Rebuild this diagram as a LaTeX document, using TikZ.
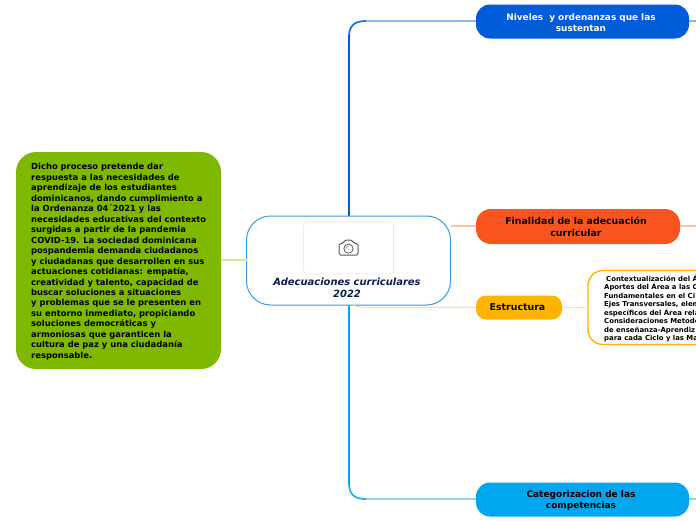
\documentclass[tikz,border=0pt]{standalone}
\usepackage{fontspec}
\setmainfont{DejaVu Sans}
\definecolor{cgreen}{HTML}{7FB800}
\definecolor{cgreenl}{HTML}{D2E6A0}
\definecolor{cblue}{HTML}{005CD9}
\definecolor{cbluel}{HTML}{8FB5EC}
\definecolor{csky}{HTML}{00A6EE}
\definecolor{cskyl}{HTML}{8AD4F5}
\definecolor{corange}{HTML}{FA5420}
\definecolor{corangel}{HTML}{FDC0AC}
\definecolor{cyellow}{HTML}{FFB500}
\definecolor{cyellowl}{HTML}{FFE29A}
\definecolor{cborder}{HTML}{3C9ADF}
\definecolor{cnavy}{HTML}{0A1F50}
\tikzset{
  x=1pt,y=-1pt,
  boxnode/.style={draw=none,inner sep=0pt,outer sep=0pt,anchor=north west},
  thinlink/.style={line width=1.1pt},
  label/.style={inner sep=0pt,align=center,font=\bfseries},
}
\begin{document}
\begin{tikzpicture}
\useasboundingbox (0,0) rectangle (696,520);
\clip (0,0) rectangle (696,520);
\fill[white] (0,0) rectangle (696,520);

% named anchors
\coordinate (topend) at (476,21);
\coordinate (botend) at (476,499);
\coordinate (rootT) at (349,216);
\coordinate (rootB) at (349,305);
\coordinate (topout) at (696,21);
\coordinate (finout) at (696,226);
\coordinate (botout) at (696,499);

% trunk connectors
\draw[cbluel,thinlink] (topend) -- (364,21);
\draw[cblue!75!cbluel,line width=1.8pt] (366,21) .. controls (354,21) and (349,26) .. (349,37);
\draw[cblue,line width=2.6pt] (349,35) -- (rootT);
\draw[cskyl,thinlink] (botend) -- (364,499);
\draw[csky!75!cskyl,line width=1.8pt] (366,499) .. controls (354,499) and (349,494) .. (349,483);
\draw[csky,line width=2.6pt] (349,485) -- (rootB);

% root
\node[boxnode,draw=cborder,line width=1pt,fill=white,rounded corners=24pt,minimum width=204pt,minimum height=89pt] (root) at (246.5,216) {};
\node[boxnode,draw=black!8,line width=0.7pt,fill=white,rounded corners=4pt,minimum width=90pt,minimum height=52pt] (photo) at (303.5,222) {};
% camera icon
\begin{scope}[shift={(348.5,248)}]
\draw[black!65,line width=1pt,rounded corners=1.5pt] (-9.5,-4.5) -- (-5.5,-4.5) -- (-3.5,-8) -- (3.5,-8) -- (5.5,-4.5) -- (9.5,-4.5) -- (9.5,7) -- (-9.5,7) -- cycle;
\draw[black!65,line width=0.8pt] (0,0.7) circle (4.6);
\draw[black!50,line width=0.5pt] (-2.4,0.7) arc (180:270:2.4);
\end{scope}
\node[label,font=\bfseries\itshape\fontsize{9.95}{12.4}\selectfont,text=cnavy] (roottext) at (347,288) {Adecuaciones curriculares\\2022};

% left
\node[boxnode,fill=cgreen,rounded corners=20pt,minimum width=205pt,minimum height=217pt] (left) at (16,152) {};
\draw[cgreenl,thinlink] (left.east |- 0,260) -- (root.west |- 0,260);
\node[inner sep=0pt,anchor=north west,align=left,text=black,font=\bfseries\fontsize{8.4}{10.47}\selectfont] (lefttext) at (31,163.3) {Dicho proceso pretende dar\\respuesta a las necesidades de\\aprendizaje de los estudiantes\\dominicanos, dando cumplimiento a\\la Ordenanza 04´2021 y las\\necesidades educativas del contexto\\surgidas a partir de la pandemia\\COVID-19. La sociedad dominicana\\pospandemia demanda ciudadanos\\y ciudadanas que desarrollen en sus\\actuaciones cotidianas: empatía,\\creatividad y talento, capacidad de\\buscar soluciones a situaciones\\y problemas que se le presenten en\\su entorno inmediato, propiciando\\soluciones democráticas y\\armoniosas que garanticen la\\cultura de paz y una ciudadanía\\responsable.};

% Niveles
\node[boxnode,fill=cblue,rounded corners=14pt,minimum width=213pt,minimum height=34pt] (n1) at (476,4.5) {};
\node[label,text=white,font=\bfseries\fontsize{8.9}{11}\selectfont] at (581,22.5) {Niveles\ \ y ordenanzas que las\\sustentan};
\draw[cbluel,thinlink] (n1.east |- 0,21) -- (topout);

% Finalidad
\node[boxnode,fill=corange,rounded corners=15pt,minimum width=204pt,minimum height=35pt] (n2) at (476,209) {};
\node[label,text=black,font=\bfseries\fontsize{9.4}{12.3}\selectfont] at (576,226.5) {Finalidad de la adecuación\\curricular};
\draw[corangel,thinlink] (root.east |- 0,226) -- (n2.west |- 0,226);
\draw[corangel,thinlink] (n2.east |- 0,226) -- (finout);

% Estructura
\node[boxnode,fill=cyellow,rounded corners=10pt,minimum width=86pt,minimum height=24pt] (n3) at (476,295.5) {};
\node[label,text=black,font=\bfseries\fontsize{9.4}{12}\selectfont] at (517.5,307.5) {Estructura};
\draw[cyellowl,thinlink] (353,305.5) .. controls (358,307) and (362,307.5) .. (368,307.5) -- (n3.west |- 0,307.5);
\node[boxnode,draw=cyellow,line width=1.4pt,fill=white,rounded corners=15pt,minimum width=130pt,minimum height=74pt] (n4) at (588,270.5) {};
\draw[cyellowl,thinlink] (n3.east |- 0,307.5) -- (n4.west |- 0,307.5);
\node[inner sep=0pt,anchor=north west,align=left,text=black,font=\bfseries\fontsize{6.9}{8.55}\selectfont] (n4text) at (604,274.5) {\hspace*{2pt}Contextualización del Á\\Aportes del Área a las C\\Fundamentales en el Ci\\Ejes Transversales, elem\\específicos del Área rela\\Consideraciones Metodo\\de enseñanza-Aprendiz\\para cada Ciclo y las Ma};

% Categorizacion
\node[boxnode,fill=csky,rounded corners=14pt,minimum width=213pt,minimum height=34pt] (n5) at (476,482.5) {};
\node[label,text=black,font=\bfseries\fontsize{9}{11}\selectfont] at (581,501) {Categorizacion de las\\competencias};
\draw[cskyl,thinlink] (n5.east |- 0,499) -- (botout);
\end{tikzpicture}
\end{document}
